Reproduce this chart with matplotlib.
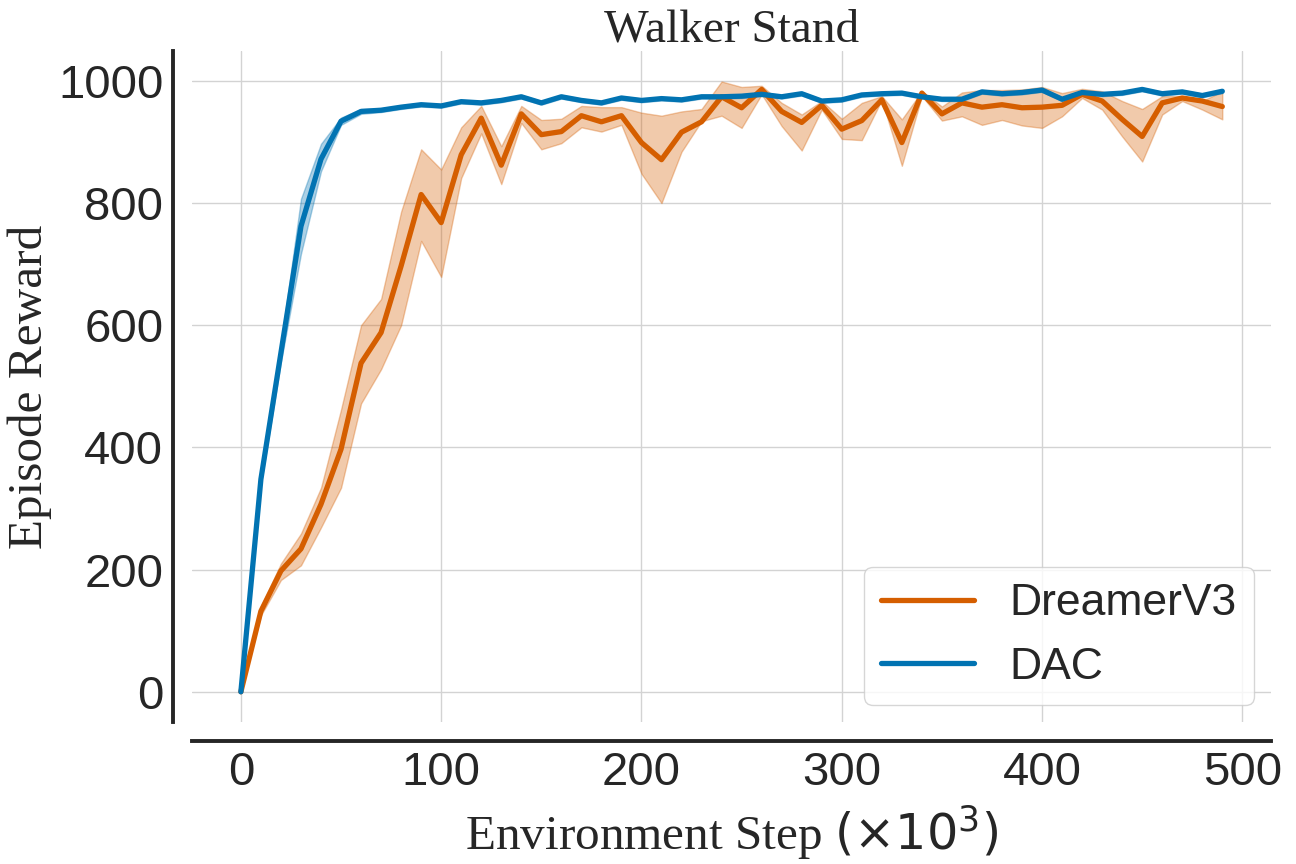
import numpy as np
import matplotlib
matplotlib.use('Agg')
import matplotlib.pyplot as plt
import seaborn as sns

# Environment steps (x10^3)
steps = list(range(0, 500, 10))

# DreamerV3: mean and band
dreamer_mean = [0, 132, 198, 234, 307, 397, 538, 588, 697, 814,
                768, 879, 939, 862, 946, 912, 917, 943, 933, 943,
                899, 871, 916, 933, 974, 956, 986, 950, 932, 960,
                921, 935, 969, 899, 980, 946, 964, 957, 961, 956,
                957, 960, 978, 967, 937, 909, 964, 972, 967, 958]
dreamer_low = [0, 125, 183, 207, 269, 334, 472, 528, 600, 738,
               679, 841, 914, 831, 931, 888, 898, 924, 917, 928,
               848, 800, 884, 934, 943, 923, 978, 926, 886, 953,
               905, 903, 969, 861, 975, 935, 942, 928, 936, 927,
               923, 942, 972, 953, 909, 868, 945, 967, 953, 937]
dreamer_high = [0, 140, 210, 259, 334, 462, 600, 643, 786, 888,
                855, 924, 959, 893, 959, 936, 938, 959, 957, 957,
                948, 943, 950, 954, 999, 990, 992, 964, 945, 967,
                938, 964, 975, 937, 983, 958, 981, 985, 985, 986,
                990, 980, 987, 983, 967, 954, 975, 975, 967, 983]

# DAC: mean and band
dac_mean = [0, 348, 555, 762, 872, 934, 950, 952, 957, 961,
            959, 966, 964, 968, 974, 964, 974, 968, 964, 972,
            968, 971, 969, 974, 974, 975, 978, 974, 979, 967,
            969, 977, 979, 980, 974, 970, 970, 982, 979, 981,
            985, 970, 981, 978, 980, 986, 979, 982, 976, 983]
dac_low = [0, 340, 540, 717, 852, 928, 946, 949, 954, 958,
           956, 963, 961, 965, 971, 961, 971, 965, 961, 969,
           965, 968, 966, 971, 971, 972, 975, 971, 976, 964,
           966, 974, 976, 977, 971, 967, 967, 979, 976, 978,
           982, 967, 978, 975, 977, 983, 976, 979, 973, 980]
dac_high = [0, 356, 570, 807, 897, 940, 954, 955, 960, 964,
            962, 969, 967, 971, 977, 967, 977, 971, 967, 975,
            971, 974, 972, 977, 977, 978, 981, 977, 982, 970,
            972, 980, 982, 983, 977, 973, 973, 985, 982, 984,
            988, 973, 984, 981, 983, 989, 982, 985, 979, 986]

sns.set_style('whitegrid')
plt.rcParams['font.family'] = ['Liberation Sans', 'DejaVu Sans']
plt.rcParams['mathtext.fontset'] = 'dejavusans'

orange = '#d55e00'
blue = '#0173b2'
txt = '#262626'

fig = plt.figure(figsize=(12.96, 8.64), dpi=100)
ax = fig.add_axes([0.148, 0.164, 0.833, 0.777])

ax.fill_between(steps, dreamer_low, dreamer_high, color=orange, alpha=0.33, linewidth=1)
ax.plot(steps, dreamer_mean, color=orange, linewidth=3.8, label='DreamerV3')
ax.fill_between(steps, dac_low, dac_high, color=blue, alpha=0.33, linewidth=1)
ax.plot(steps, dac_mean, color=blue, linewidth=3.8, label='DAC')

ax.set_xticks([0, 100, 200, 300, 400, 500])
ax.set_yticks([0, 200, 400, 600, 800, 1000])
ax.tick_params(axis='both', labelsize=34, length=0, pad=7, colors=txt)

serif = ['Liberation Serif', 'DejaVu Serif']
ax.set_title('Walker Stand', family=serif, fontsize=34, color=txt, pad=7)
ax.set_ylabel('Episode Reward', family=serif, fontsize=35.5, color=txt, labelpad=4)
ax.set_xlabel(r'Environment Step $(\times 10^3)$', family=serif, fontsize=35.5,
              color=txt, labelpad=6)

ax.grid(True, color='#d3d3d3', linewidth=1)
sns.despine(ax=ax, offset=13.5)
for side in ['left', 'bottom']:
    ax.spines[side].set_linewidth(2.8)
    ax.spines[side].set_color(txt)

leg = ax.legend(loc='lower right', prop={'family': 'Liberation Sans', 'size': 32},
                handlelength=2.1, borderpad=0.38, labelspacing=0.5, handletextpad=0.8,
                borderaxespad=0.4)
for t in leg.get_texts():
    t.set_color(txt)

fig.savefig('out.png', dpi=100)
